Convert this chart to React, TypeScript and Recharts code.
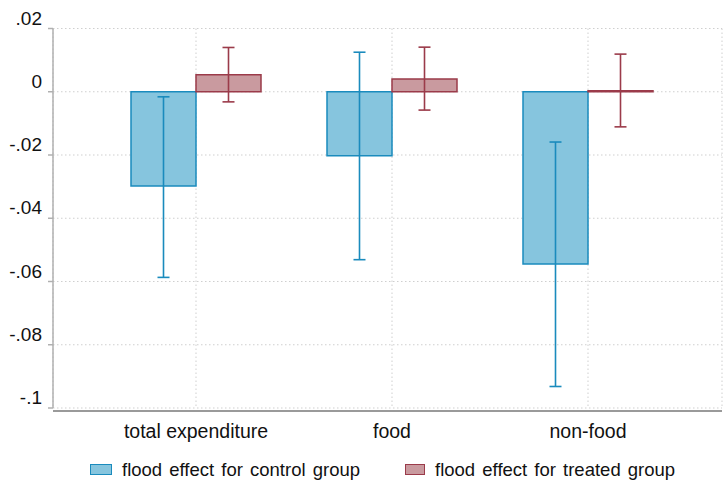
import React from 'react';
import { BarChart, Bar, XAxis, YAxis, CartesianGrid, ErrorBar, Legend } from 'recharts';

const categories = ['total expenditure', 'food', 'non-food'];
const controlValues = [-0.0298, -0.0202, -0.0545];
const controlLow = [-0.0587, -0.0531, -0.0932];
const controlHigh = [-0.0016, 0.0125, -0.0159];
const treatedValues = [0.0054, 0.004, 0.0003];
const treatedLow = [-0.0032, -0.0058, -0.0111];
const treatedHigh = [0.014, 0.0141, 0.0119];
const yTicks = [0.02, 0, -0.02, -0.04, -0.06, -0.08, -0.1];
const yTickLabels = ['.02', '0', '-.02', '-.04', '-.06', '-.08', '-.1'];
const seriesNames = ['flood effect for control group', 'flood effect for treated group'];

const data = categories.map((c, i) => ({
  name: c,
  control: controlValues[i],
  controlErr: [controlValues[i] - controlLow[i], controlHigh[i] - controlValues[i]],
  treated: treatedValues[i],
  treatedErr: [treatedValues[i] - treatedLow[i], treatedHigh[i] - treatedValues[i]],
}));

const FONT = '"Liberation Sans", Arial, sans-serif';
const C_FILL = '#86c5de';
const C_STROKE = '#1a8bbd';
const T_FILL = '#c99a9f';
const T_STROKE = '#9b3b4a';

const LegendContent = () => (
  <div style={{ display: 'flex', alignItems: 'center', fontFamily: FONT, fontSize: 18.5, color: '#111', paddingLeft: 90, height: 30, paddingTop: 7, boxSizing: 'border-box' }}>
    <span style={{ display: 'inline-block', width: 20, height: 9, background: C_FILL, border: `1.5px solid ${C_STROKE}` }} />
    <span style={{ marginLeft: 10, wordSpacing: 2 }}>{seriesNames[0]}</span>
    <span style={{ display: 'inline-block', width: 18, height: 9, background: T_FILL, border: `1.5px solid ${T_STROKE}`, marginLeft: 45 }} />
    <span style={{ marginLeft: 10, wordSpacing: 2 }}>{seriesNames[1]}</span>
  </div>
);

export default function App() {
  return (
    <div style={{ position: 'absolute', left: 0, top: 0 }}>
      <BarChart
        width={727}
        height={481}
        data={data}
        margin={{ top: 28.5, right: 5, left: 0, bottom: 0 }}
        barCategoryGap={33}
        barGap={0}
      >
        <CartesianGrid stroke="#cfcfcf" strokeDasharray="1.5 2.5" />
        <XAxis
          dataKey="name"
          height={43}
          padding={{ left: 45, right: 36 }}
          tickLine={false}
          tickMargin={10}
          axisLine={{ stroke: '#9a9a9a', strokeWidth: 2, transform: 'translate(0,3)' }}
          tick={{ fill: '#111', fontSize: 19.5, fontFamily: FONT }}
        />
        <YAxis
          width={53}
          domain={[-0.1, 0.02]}
          ticks={yTicks}
          interval={0}
          tickSize={5}
          tickMargin={6}
          tickFormatter={(v: number) => yTickLabels[yTicks.indexOf(v)] ?? String(v)}
          axisLine={{ stroke: '#b0b0b0', strokeWidth: 1.5 }}
          tickLine={{ stroke: '#b0b0b0', strokeWidth: 1.5 }}
          tick={{ fill: '#111', fontSize: 19, fontFamily: FONT, dy: -10.5 }}
        />
        <Legend verticalAlign="bottom" height={30} content={<LegendContent />} />
        <Bar dataKey="control" name={seriesNames[0]} fill={C_FILL} stroke={C_STROKE} strokeWidth={1.5} isAnimationActive={false}>
          <ErrorBar dataKey="controlErr" direction="y" width={6} stroke={C_STROKE} strokeWidth={1.6} isAnimationActive={false} />
        </Bar>
        <Bar dataKey="treated" name={seriesNames[1]} fill={T_FILL} stroke={T_STROKE} strokeWidth={1.5} isAnimationActive={false}>
          <ErrorBar dataKey="treatedErr" direction="y" width={6} stroke={T_STROKE} strokeWidth={1.6} isAnimationActive={false} />
        </Bar>
      </BarChart>
    </div>
  );
}
